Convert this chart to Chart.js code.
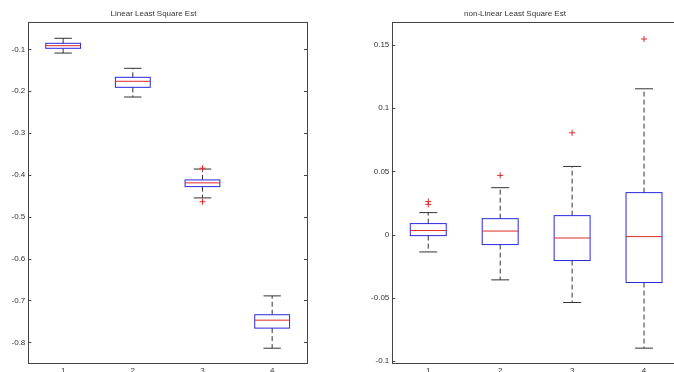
<!DOCTYPE html>
<html>
<head>
<meta charset="utf-8">
<script src="https://cdn.jsdelivr.net/npm/chart.js@4"></script>
<style>
  html, body { margin: 0; padding: 0; background: #fff; overflow: hidden; width: 674px; height: 372px; }
  canvas { position: absolute; top: 0; }
  #linChart { left: 0; }
  #nlChart { left: 350px; }
</style>
</head>
<body>
<canvas id="linChart" width="335" height="372"></canvas>
<canvas id="nlChart" width="370" height="372"></canvas>
<script>
// categories / tick labels
const categories = [1, 2, 3, 4];
const linYTicks = [-0.8, -0.7, -0.6, -0.5, -0.4, -0.3, -0.2, -0.1];
const nlYTicks = [-0.1, -0.05, 0, 0.05, 0.1, 0.15];

// Linear Least Square Est
const linWhiskerLow = [-0.109, -0.214, -0.455, -0.814];
const linQ1 = [-0.0976, -0.1908, -0.428, -0.766];
const linMedian = [-0.0914, -0.1764, -0.419, -0.747];
const linQ3 = [-0.0857, -0.1669, -0.412, -0.734];
const linWhiskerHigh = [-0.0737, -0.1454, -0.386, -0.689];
const linOutliers = [[], [], [-0.384, -0.464], []];

// non-Linear Least Square Est
const nlWhiskerLow = [-0.0137, -0.0358, -0.0537, -0.0898];
const nlQ1 = [-0.0008, -0.0079, -0.0205, -0.0379];
const nlMedian = [0.0032, 0.0028, -0.0027, -0.0016];
const nlQ3 = [0.0087, 0.0126, 0.015, 0.0332];
const nlWhiskerHigh = [0.0174, 0.0371, 0.0539, 0.1153];
const nlOutliers = [[0.0262, 0.0239], [0.0468], [0.0805], [0.1547]];

const FONT = { family: '"Liberation Sans", Arial, sans-serif', size: 8, weight: 'normal' };
const TEXT = '#333';

// draws boxes, whiskers and the axes frame through the chart scales
const boxPlugin = {
  id: 'boxes',
  beforeDatasetsDraw(chart, args, o) {
    const ctx = chart.ctx, xs = chart.scales.x, ys = chart.scales.y;
    const half = xs.getPixelForValue(1.25) - xs.getPixelForValue(1);
    const cap = half / 2;
    ctx.save();
    ctx.lineWidth = 1;
    categories.forEach((c, i) => {
      const x = xs.getPixelForValue(c);
      const yLo = ys.getPixelForValue(o.low[i]);
      const yQ1 = ys.getPixelForValue(o.q1[i]);
      const yMed = ys.getPixelForValue(o.med[i]);
      const yQ3 = ys.getPixelForValue(o.q3[i]);
      const yHi = ys.getPixelForValue(o.high[i]);
      // dashed whiskers
      ctx.strokeStyle = '#333';
      ctx.setLineDash([5, 3]);
      ctx.beginPath();
      ctx.moveTo(x, yQ3); ctx.lineTo(x, yHi);
      ctx.moveTo(x, yQ1); ctx.lineTo(x, yLo);
      ctx.stroke();
      ctx.setLineDash([]);
      // caps
      ctx.beginPath();
      ctx.moveTo(x - cap, yHi); ctx.lineTo(x + cap, yHi);
      ctx.moveTo(x - cap, yLo); ctx.lineTo(x + cap, yLo);
      ctx.stroke();
      // box
      ctx.strokeStyle = 'rgb(40,40,225)';
      ctx.strokeRect(x - half, yQ3, half * 2, yQ1 - yQ3);
      // median
      ctx.strokeStyle = 'rgb(225,40,40)';
      ctx.beginPath();
      ctx.moveTo(x - half, yMed); ctx.lineTo(x + half, yMed);
      ctx.stroke();
    });
    ctx.restore();
  },
  afterDatasetsDraw(chart) {
    const ctx = chart.ctx, a = chart.chartArea, ys = chart.scales.y;
    ctx.save();
    ctx.strokeStyle = '#444';
    ctx.lineWidth = 1;
    ctx.strokeRect(Math.round(a.left) + 0.5, Math.round(a.top) + 0.5,
      Math.round(a.right - a.left), Math.round(a.bottom - a.top));
    ctx.beginPath();
    ys.ticks.forEach(t => {
      const y = Math.round(ys.getPixelForValue(t.value)) + 0.5;
      ctx.moveTo(a.left, y); ctx.lineTo(a.left + 3, y);
      ctx.moveTo(a.right - 3, y); ctx.lineTo(a.right, y);
    });
    ctx.stroke();
    ctx.restore();
  }
};

function outlierPoints(list) {
  const pts = [];
  list.forEach((vals, i) => vals.forEach(v => pts.push({ x: categories[i], y: v })));
  return pts;
}

function makeChart(id, cfg) {
  return new Chart(document.getElementById(id), {
    type: 'scatter',
    data: {
      datasets: [{
        data: outlierPoints(cfg.outliers),
        pointStyle: 'cross',
        radius: 3,
        borderColor: 'rgb(230,40,40)',
        borderWidth: 1
      }]
    },
    options: {
      responsive: false,
      animation: false,
      layout: { padding: { left: 0, right: cfg.padRight, top: 0, bottom: 0 } },
      plugins: {
        legend: { display: false },
        tooltip: { enabled: false },
        title: {
          display: true,
          text: cfg.title,
          color: TEXT,
          font: FONT,
          padding: { top: 9.2, bottom: 3.5 }
        },
        boxes: { low: cfg.low, q1: cfg.q1, med: cfg.med, q3: cfg.q3, high: cfg.high }
      },
      scales: {
        x: {
          type: 'linear',
          min: 0.5,
          max: 4.5,
          grid: { display: false, drawTicks: false },
          border: { display: false },
          afterBuildTicks: s => { s.ticks = categories.map(v => ({ value: v })); },
          afterFit: s => { s.height = 8.3; },
          ticks: { color: TEXT, font: FONT, padding: 2.5, autoSkip: false, maxRotation: 0,
                   callback: v => String(v) }
        },
        y: {
          min: cfg.yMin,
          max: cfg.yMax,
          grid: { display: false, drawTicks: false },
          border: { display: false },
          afterBuildTicks: s => { s.ticks = cfg.yTicks.map(v => ({ value: v })); },
          afterFit: s => { s.width = cfg.yWidth; },
          ticks: { color: TEXT, font: FONT, padding: 3,
                   callback: v => String(+v.toFixed(2)) }
        }
      }
    },
    plugins: [boxPlugin]
  });
}

makeChart('linChart', {
  title: 'Linear Least Square Est',
  low: linWhiskerLow, q1: linQ1, med: linMedian, q3: linQ3, high: linWhiskerHigh,
  outliers: linOutliers, yTicks: linYTicks,
  yMin: -0.851, yMax: -0.0355, yWidth: 28.3, padRight: 28
});

makeChart('nlChart', {
  title: 'non-Linear Least Square Est',
  low: nlWhiskerLow, q1: nlQ1, med: nlMedian, q3: nlQ3, high: nlWhiskerHigh,
  outliers: nlOutliers, yTicks: nlYTicks,
  yMin: -0.1021, yMax: 0.1679, yWidth: 42.3, padRight: 40
});
</script>
</body>
</html>
